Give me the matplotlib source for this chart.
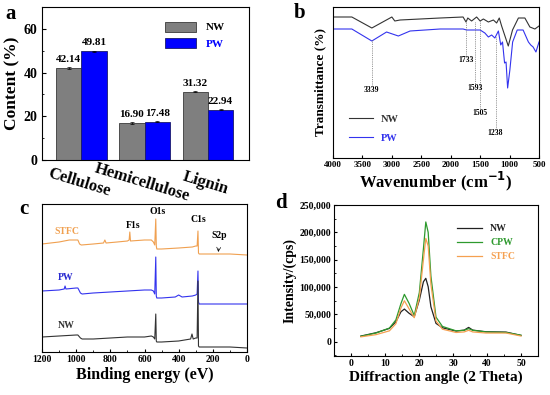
import matplotlib
matplotlib.use("Agg")
from matplotlib import pyplot as plt
from matplotlib import ticker
import numpy as np

plt.rcParams['font.family'] = ['Liberation Serif', 'DejaVu Serif']
plt.rcParams['font.weight'] = 'bold'
plt.rcParams['axes.labelweight'] = 'bold'
plt.rcParams['xtick.direction'] = 'in'
plt.rcParams['ytick.direction'] = 'in'
plt.rcParams['axes.linewidth'] = 0.8

# (a) composition
components = ['Cellulose', 'Hemicellulose', 'Lignin']
nw_content = [42.14, 16.90, 31.32]
pw_content = [49.81, 17.48, 22.94]
nw_err = [0.3, 0.3, 0.3]
pw_err = [0.2, 0.2, 0.2]

# (b) FTIR, transmittance in arbitrary units
ftir_nw_wn = [4000, 3680, 3340, 3000, 2950, 2860, 2180, 1790, 1740, 1710, 1645, 1560, 1500,
              1445, 1360, 1275, 1220, 1175, 1135, 1022, 950, 850, 740, 655, 570, 500]
ftir_nw_t = [141, 141, 130, 141, 137, 138, 140, 141, 136, 140, 137, 141, 137,
             139, 136, 138, 135, 140, 132, 112, 128, 140, 140, 131, 129, 132]
ftir_pw_wn = [4000, 3680, 3340, 3090, 2890, 2690, 2180, 1790, 1730, 1500, 1420, 1360, 1305,
              1250, 1190, 1150, 1120, 1085, 1060, 1033, 995, 948, 870, 770, 680, 640, 600, 552, 500]
ftir_pw_t = [129, 129, 117, 126, 122, 127, 129, 129, 128, 128, 125, 121, 123,
             120, 127, 113, 116, 95, 96, 70, 88, 116, 128, 128, 116, 113, 111, 106, 116]
ftir_marks = [3339, 1733, 1593, 1505, 1238]
ftir_mark_top = [118, 137, 136, 137, 121]
ftir_mark_label = [68, 98, 70, 45, 25]

# (c) XPS survey, intensity in arbitrary units
xps_stfc_ev = [1200, 1100, 1040, 990, 980, 970, 900, 840, 832, 825, 760, 700, 690, 686, 682, 600,
               560, 548, 540, 534, 531, 528, 515, 500, 400, 320, 300, 292, 287, 284, 280, 270, 170, 100, 0]
xps_stfc = [108, 110, 112, 112, 108, 107, 108, 109, 112, 109, 110, 111, 112, 120, 111, 112,
            112, 110, 107, 133, 106, 103, 103, 103, 104, 105, 106, 106, 121, 99, 98, 98, 98, 98, 97]
xps_pw_ev = [1200, 1100, 1070, 1065, 1060, 1000, 990, 975, 965, 900, 800, 700, 600, 560, 548, 540,
             534, 531, 528, 515, 500, 420, 400, 380, 320, 300, 292, 287, 284, 280, 270, 100, 0]
xps_pw = [61, 62, 63, 66, 63, 64, 64, 59, 58, 59, 60, 61, 62, 62, 61, 58,
          95, 56, 54, 54, 54, 55, 57, 55, 56, 57, 58, 81, 50, 48, 48, 48, 48]
xps_nw_ev = [1200, 1100, 1000, 990, 975, 965, 900, 800, 700, 600, 560, 548, 540, 534, 531, 528,
             515, 500, 400, 330, 322, 315, 300, 292, 287, 284, 280, 270, 100, 0]
xps_nw = [15, 16, 17, 17, 14, 13, 13, 14, 15, 15, 16, 15, 13, 38, 11, 10,
          10, 10, 11, 13, 18, 13, 14, 14, 71, 6, 5, 5, 5, 4]

# (d) XRD
xrd_angle = [2.9, 7.35, 11.3, 13.2, 14.7, 15.7, 17.1, 18.6, 20.1, 21.3, 22.0, 22.7, 23.5,
             25.0, 26.9, 30.9, 33.3, 34.6, 35.8, 39.7, 45.6, 50.0]
xrd_nw = [10400, 16500, 24500, 36600, 54900, 59800, 52000, 45700, 76200, 109700, 116000, 100600, 64000,
          33600, 25600, 19500, 21300, 26300, 21300, 18300, 17700, 11600]
xrd_cpw = [10000, 16000, 25000, 40000, 70000, 86700, 70000, 48000, 90000, 170000, 219000, 200000, 120000,
           45000, 28000, 20000, 21000, 24000, 21000, 18000, 17000, 12000]
xrd_stfc = [9000, 13000, 20000, 33000, 62000, 75000, 60000, 44000, 80000, 150000, 189000, 175000, 105000,
            38000, 23000, 17000, 18000, 21000, 18000, 16000, 16000, 10500]

W, H = 550, 395
fig = plt.figure(figsize=(W / 100, H / 100), dpi=100)


def box(l, t, r, b):
    return [l / W, 1 - b / H, (r - l) / W, (b - t) / H]


# ---- panel a
ax = fig.add_axes(box(42, 7, 249, 160))
x = np.arange(len(components))
bw = 0.4
ax.bar(x - bw / 2, nw_content, bw, yerr=nw_err, color='#7f7f7f', edgecolor='#3a3a3a', lw=0.6,
       capsize=1.5, error_kw={'elinewidth': 0.5, 'capthick': 0.5}, label='NW')
ax.bar(x + bw / 2, pw_content, bw, yerr=pw_err, color='#0000ff', edgecolor='#1a1a6a', lw=0.6,
       capsize=1.5, error_kw={'elinewidth': 0.5, 'capthick': 0.5}, label='PW')
for i in range(len(components)):
    ax.text(x[i] - bw / 2, nw_content[i] + 1.8, '%.2f' % nw_content[i], ha='center', va='bottom', fontsize=8)
    ax.text(x[i] + bw / 2, pw_content[i] + 1.8, '%.2f' % pw_content[i], ha='center', va='bottom', fontsize=8)
ax.set_xlim(-0.62, 2.65)
ax.set_ylim(0, 70)
ax.set_yticks([0, 20, 40, 60])
ax.yaxis.set_minor_locator(ticker.MultipleLocator(10))
ax.tick_params(axis='y', labelsize=10, length=3)
ax.tick_params(axis='y', which='minor', length=1.5)
ax.set_xticks(x)
ax.set_xticklabels(components, fontsize=12, rotation=-17, rotation_mode='anchor', ha='center')
ax.tick_params(axis='x', length=0, pad=11)
ax.set_ylabel('Content (%)', fontsize=12.5, labelpad=2)
ax.legend(loc='upper right', bbox_to_anchor=(0.93, 0.97), fontsize=8, frameon=False,
          labelcolor=['black', '#0000ff'], handlelength=2.8, handleheight=1.0)
fig.text(11 / W, 1 - 14 / H, 'a', fontsize=15, ha='center', va='center')

# ---- panel b
ax = fig.add_axes(box(333, 7, 539, 158))
ax.plot(ftir_nw_wn, ftir_nw_t, color='#333333', lw=0.8, label='NW')
ax.plot(ftir_pw_wn, ftir_pw_t, color='#3333ee', lw=0.8, label='PW')
for wn, top, lab in zip(ftir_marks, ftir_mark_top, ftir_mark_label):
    ax.plot([wn, wn], [top, lab + 4], color='#777777', lw=0.6, ls=(0, (1, 1.2)))
    ax.text(wn, lab, str(wn), ha='center', va='center', fontsize=5.5)
ax.set_xlim(4000, 500)
ax.set_ylim(0, 151)
ax.set_xticks(np.arange(4000, 499, -500))
ax.set_yticks([])
ax.tick_params(axis='x', labelsize=6.5, length=2.5, pad=2)
ax.set_xlabel('Wavenumber (cm$^{\\mathbf{-1}}$)', fontsize=12, labelpad=1)
ax.set_ylabel('Transmittance (%)', fontsize=9.5, labelpad=5)
ax.legend(loc='lower left', bbox_to_anchor=(0.03, 0.04), fontsize=7.5, frameon=False,
          labelcolor='linecolor', handlelength=2.3, labelspacing=0.9)
fig.text(300 / W, 1 - 13 / H, 'b', fontsize=15, ha='center', va='center')

# ---- panel c
ax = fig.add_axes(box(42, 204, 247, 352))
ax.plot(xps_stfc_ev, xps_stfc, color='#f0a050', lw=0.8)
ax.plot(xps_pw_ev, xps_pw, color='#3333ee', lw=0.8)
ax.plot(xps_nw_ev, xps_nw, color='#333333', lw=0.8)
ax.text(1055, 120, 'STFC', color='#f0a050', fontsize=7, ha='center', va='center')
ax.text(1060, 74, 'PW', color='#2a2ad0', fontsize=7, ha='center', va='center')
ax.text(1060, 26, 'NW', color='#333333', fontsize=7, ha='center', va='center')
ax.text(668, 126, 'F1s', fontsize=7, ha='center', va='center')
ax.text(525, 141, 'O1s', fontsize=7, ha='center', va='center')
ax.text(286, 132, 'C1s', fontsize=7, ha='center', va='center')
ax.annotate('S2p', xy=(168, 100), xytext=(160, 116), fontsize=7, ha='center', va='center',
            arrowprops=dict(arrowstyle='->', lw=0.5, color='black', shrinkA=4, shrinkB=0))
ax.set_xlim(1200, 0)
ax.set_ylim(0, 148)
ax.set_xticks(np.arange(1200, -1, -200))
ax.xaxis.set_minor_locator(ticker.MultipleLocator(100))
ax.set_yticks([])
ax.tick_params(axis='x', labelsize=7, length=2.5, pad=2)
ax.tick_params(axis='x', which='minor', length=1.5)
ax.set_xlabel('Binding energy (eV)', fontsize=11.5, labelpad=2)
fig.text(24 / W, 1 - 209 / H, 'c', fontsize=15, ha='center', va='center')

# ---- panel d
ax = fig.add_axes(box(334, 205, 538, 356))
ax.plot(xrd_angle, xrd_nw, color='#222222', lw=0.9, label='NW')
ax.plot(xrd_angle, xrd_cpw, color='#2e9a2e', lw=0.9, label='CPW')
ax.plot(xrd_angle, xrd_stfc, color='#f5a050', lw=0.9, label='STFC')
ax.set_xlim(-5, 55)
ax.set_ylim(-26000, 250000)
ax.set_xticks([0, 10, 20, 30, 40, 50])
ax.xaxis.set_minor_locator(ticker.MultipleLocator(5))
ax.set_yticks(np.arange(0, 250001, 50000))
ax.yaxis.set_minor_locator(ticker.MultipleLocator(25000))
ax.yaxis.set_major_formatter(ticker.FuncFormatter(lambda v, p: '{:,}'.format(int(v))))
ax.tick_params(labelsize=7, length=2.5, pad=2)
ax.tick_params(which='minor', length=1.5)
ax.set_xlabel('Diffraction angle (2 Theta)', fontsize=11, labelpad=2)
ax.set_ylabel('Intensity/(cps)', fontsize=10, labelpad=2)
ax.legend(loc='upper left', bbox_to_anchor=(0.56, 0.93), fontsize=7, frameon=False,
          labelcolor='linecolor', handlelength=2.6, labelspacing=0.5)
fig.text(281 / W, 1 - 203 / H, 'd', fontsize=15, ha='center', va='center')

fig.savefig('out.png', dpi=100)
